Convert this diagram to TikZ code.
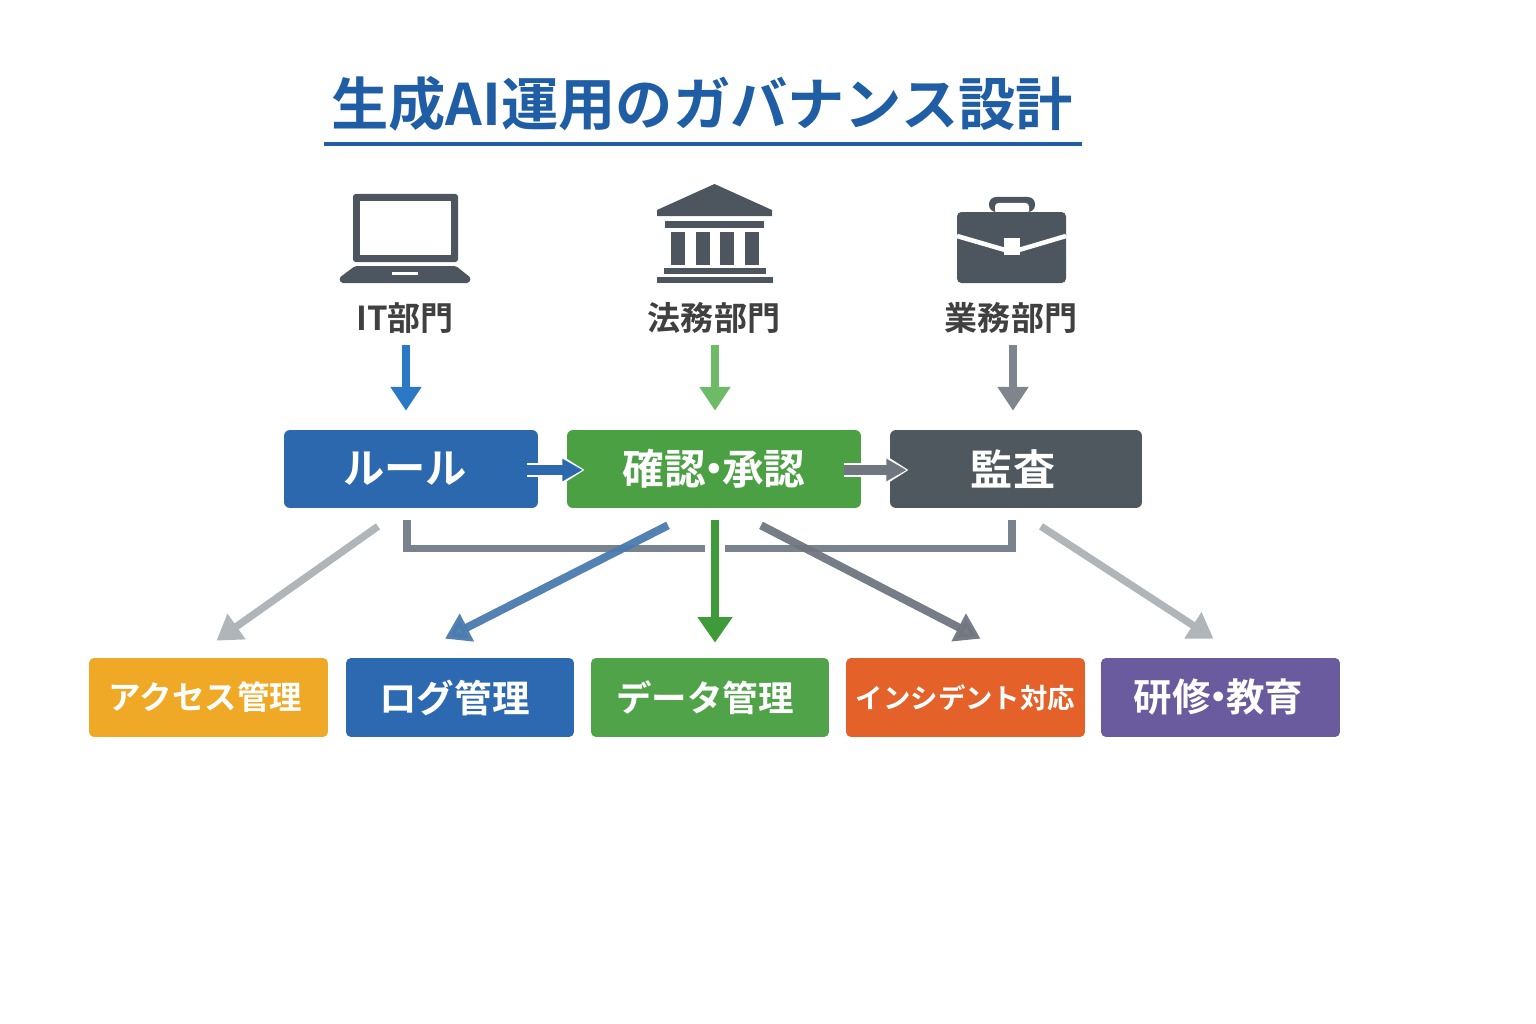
\documentclass[tikz,border=0pt]{standalone}
\usepackage{fontspec}
\setmainfont{Noto Sans CJK JP}[BoldFont={Noto Sans CJK JP Bold}]
\usetikzlibrary{arrows.meta}

\definecolor{titleblue}{HTML}{1F5DA5}
\definecolor{icongray}{HTML}{4D565E}
\definecolor{rulebox}{HTML}{2B68AE}
\definecolor{checkbox}{HTML}{4BA043}
\definecolor{auditbox}{HTML}{50585F}
\definecolor{accessbox}{HTML}{EFA927}
\definecolor{logbox}{HTML}{2D69B0}
\definecolor{databox}{HTML}{50A348}
\definecolor{incidentbox}{HTML}{E4622A}
\definecolor{trainbox}{HTML}{6A5A9E}
\definecolor{itarrow}{HTML}{2B78C4}
\definecolor{legalarrow}{HTML}{6DBB66}
\definecolor{bizarrow}{HTML}{7E858C}
\definecolor{bracketgray}{HTML}{78838D}
\definecolor{paleline}{HTML}{B0B5BA}
\definecolor{logline}{HTML}{4A7BAE}
\definecolor{dataline}{HTML}{3F9B3A}
\definecolor{darkline}{HTML}{6F7680}
\newcommand{\nakadot}{\kern-.3em・\kern-.3em}

\begin{document}
\begin{tikzpicture}[x=0.02cm,y=-0.02cm,
dept/.style={text=black!75,font=\bfseries\fontsize{18.8}{20}\selectfont,inner sep=0pt,minimum height=0.72cm},
topbox/.style={fill=#1,rounded corners=0.12cm,text=white,inner sep=0pt,minimum height=1.56cm,font=\bfseries\fontsize{24}{26}\selectfont},
lowbox/.style={fill=#1,rounded corners=0.1cm,text=white,inner sep=0pt,minimum height=1.58cm},
down/.style={line width=4.6pt,draw=#1,-{Triangle[length=13.6pt,width=17pt]}},
flow/.style={line width=5.8pt,draw=#1,-{Triangle[length=11.5pt,width=12pt]}},
halo/.style={line width=8.4pt,draw=white,-{Triangle[length=13.5pt,width=16pt]}},
slant/.style={line width=#1,-{Triangle[length=14pt,width=17pt]}}]
\useasboundingbox (0,0) rectangle (1536,1024);
%================================================================
%	Title
\node[text=titleblue,inner sep=0pt,font=\bfseries\fontsize{32.6}{34}\selectfont] (title) at (702,104) {生成AI運用のガバナンス設計};
\draw[line width=2.3pt,titleblue] (324,144) -- (1082,144);

%================================================================
%	Icons
% laptop
\fill[icongray,rounded corners=1.5pt] (353,194) rectangle (458,262);
\fill[white] (360,201) rectangle (451,255);
\fill[icongray,rounded corners=1pt] (355,266) -- (456,266) -- (471,278) -- (469,283) -- (341,283) -- (339,278) -- cycle;
\fill[white] (392,272) rectangle (418,275);
%----------------------------------------------------------------
% bank
\fill[icongray] (714.5,184) -- (772,210) -- (772,216) -- (657,216) -- (657,210) -- cycle;
\fill[icongray] (665,221) rectangle (764,228);
\foreach \colx in {671,696,720,745}
	\fill[icongray] (\colx,232) rectangle (\colx+14,265);
\fill[icongray] (664,268) rectangle (766,274);
\fill[icongray] (657,277) rectangle (773,283);
%----------------------------------------------------------------
% briefcase
\fill[icongray,rounded corners=4pt] (989,212) -- (989,197) -- (1035,197) -- (1035,212) -- cycle;
\fill[white,rounded corners=2pt] (995,214) -- (995,203) -- (1029,203) -- (1029,214) -- cycle;
\fill[icongray,rounded corners=2.5pt] (957,212) rectangle (1066,283);
\draw[white,line width=2.6pt] (957,236) -- (1012,252) -- (1066,236);
\fill[white] (1004,238) rectangle (1020,255);

%================================================================
%	Nodes
\node[dept] (itdept) at (405,318) {IT部門};
\node[dept] (legaldept) at (714,318) {法務部門};
\node[dept] (bizdept) at (1011,318) {業務部門};
%----------------------------------------------------------------
\node[topbox=rulebox,minimum width=5.08cm] (rule) at (411,469) {\hspace{-0.24cm}\fontsize{23.5}{26}\selectfont ルール};
\node[topbox=checkbox,minimum width=5.88cm] (check) at (714,469) {\fontsize{23.7}{26}\selectfont 確認\nakadot 承認};
\node[topbox=auditbox,minimum width=5.04cm] (audit) at (1016,469) {\hspace{-0.12cm}監査};
%----------------------------------------------------------------
\node[lowbox=accessbox,minimum width=4.78cm,font=\bfseries\fontsize{18.5}{20}\selectfont] (access) at (208.5,697.5) {\hspace{-0.12cm}アクセス管理};
\node[lowbox=logbox,minimum width=4.56cm,font=\bfseries\fontsize{21.4}{23}\selectfont] (logm) at (460,697.5) {\hspace{-0.22cm}ログ管理};
\node[lowbox=databox,minimum width=4.76cm,font=\bfseries\fontsize{20.2}{22}\selectfont] (datam) at (710,697.5) {\hspace{-0.2cm}データ管理};
\node[lowbox=incidentbox,minimum width=4.78cm,font=\bfseries\fontsize{15.6}{18}\selectfont] (incident) at (965.5,697.5) {インシデント対応};
\node[lowbox=trainbox,minimum width=4.78cm,font=\bfseries\fontsize{21.9}{24}\selectfont] (train) at (1220.5,697.5) {\hspace{-0.08cm}研修\nakadot 教育};

%================================================================
%	Lines
\draw[down=itarrow] ([shift={(1,9)}]itdept.south) -- ([shift={(-5,-19)}]rule.north);
\draw[down=legalarrow] ([shift={(1,9)}]legaldept.south) -- ([shift={(1,-19)}]check.north);
\draw[down=bizarrow] ([shift={(2,9)}]bizdept.south) -- ([shift={(-3,-19)}]audit.north);
%----------------------------------------------------------------
\draw[halo] ([shift={(-11,1)}]rule.east) -- ([shift={(18,1)}]check.west);
\draw[flow=rulebox] ([shift={(-11,1)}]rule.east) -- ([shift={(16,1)}]check.west);
\draw[halo] ([shift={(-17,1)}]check.east) -- ([shift={(19,1)}]audit.west);
\draw[flow=darkline] ([shift={(-17,1)}]check.east) -- ([shift={(17,1)}]audit.west);
%----------------------------------------------------------------
\draw[line width=4pt,draw=bracketgray] ([shift={(-4,12)}]rule.south) |- ([shift={(-5,-109)}]datam.north);
\draw[line width=4pt,draw=bracketgray] ([shift={(-4,12)}]audit.south) |- ([shift={(15,-109)}]datam.north);
%----------------------------------------------------------------
\draw[slant=4.2pt,draw=paleline] ([shift={(-33,18)}]rule.south) -- ([shift={(8,-17)}]access.north);
\draw[slant=4.6pt,draw=logline,opacity=.95] ([shift={(-46,17)}]check.south) -- ([shift={(-15,-19)}]logm.north);
\draw[line width=4.6pt,draw=dataline,-{Triangle[length=14.5pt,width=19pt]}] ([shift={(1,12)}]check.south) -- ([shift={(5,-15)}]datam.north);
\draw[slant=4.6pt,draw=darkline,opacity=.95] ([shift={(47,17)}]check.south) -- ([shift={(15,-19)}]incident.north);
\draw[slant=4.2pt,draw=paleline] ([shift={(25,18)}]audit.south) -- ([shift={(-7,-19)}]train.north);
%================================================================
\end{tikzpicture}
\end{document}
